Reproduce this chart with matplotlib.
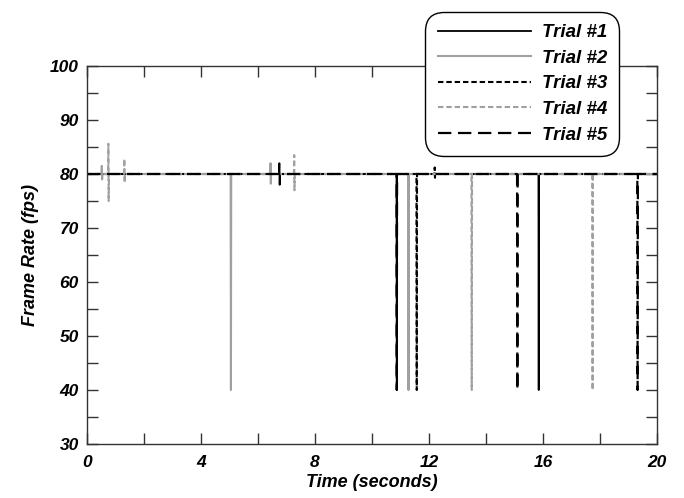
import matplotlib
matplotlib.use("Agg")
import matplotlib.pyplot as plt
from matplotlib.ticker import MultipleLocator

# ---- data (time in s, frame rate in fps) ----
trial1_t = [0, 6.74, 6.75, 6.76, 6.77, 10.86, 10.87, 10.88, 15.84, 15.85, 15.86, 20]
trial1_v = [80, 80, 82, 78, 80, 80, 40, 80, 80, 40, 80, 80]

trial2_t = [0, 0.51, 0.52, 0.53, 0.54, 5.04, 5.05, 5.06, 6.43, 6.44, 6.45, 6.46, 11.27, 11.28, 11.29, 20]
trial2_v = [80, 80, 81.5, 79, 80, 80, 40, 80, 80, 82, 78.2, 80, 80, 40, 80, 80]

trial3_t = [0, 11.56, 11.57, 11.58, 12.19, 12.2, 12.21, 12.22, 20]
trial3_v = [80, 80, 40, 80, 80, 81.2, 79.3, 80, 80]

trial4_t = [0, 0.74, 0.75, 0.76, 0.77, 1.30, 1.31, 1.32, 1.33, 7.26, 7.27, 7.28, 7.29,
            13.49, 13.5, 13.51, 17.73, 17.74, 17.75, 20]
trial4_v = [80, 80, 85.6, 75, 80, 80, 82.8, 78.4, 80, 80, 83.5, 77, 80,
            80, 40, 80, 80, 40, 80, 80]

trial5_t = [0, 10.86, 10.87, 10.88, 15.09, 15.1, 15.11, 19.31, 19.32, 19.33, 20]
trial5_v = [80, 80, 40, 80, 80, 40, 80, 80, 40, 80, 80]

labels = ["Trial #1", "Trial #2", "Trial #3", "Trial #4", "Trial #5"]

# ---- figure ----
plt.rcParams['font.family'] = ['Liberation Sans', 'DejaVu Sans']
fig = plt.figure(figsize=(6.84, 4.98), dpi=100)
ax = fig.add_axes([87/684, 1-444/498, (657-87)/684, (444-66)/498])

gray = '#a0a0a0'
l1, = ax.plot(trial1_t, trial1_v, color='black', lw=1.3, ls='-')
l2, = ax.plot(trial2_t, trial2_v, color=gray, lw=1.5, ls='-')
l3, = ax.plot(trial3_t, trial3_v, color='black', lw=1.5, ls=(0, (2.6, 1.4)))
l4, = ax.plot(trial4_t, trial4_v, color=gray, lw=1.5, ls=(0, (2.6, 1.4)))
l5, = ax.plot(trial5_t, trial5_v, color='black', lw=1.6, ls=(0, (6, 3)))

ax.set_xlim(0, 20)
ax.set_ylim(30, 100)
ax.xaxis.set_major_locator(MultipleLocator(4))
ax.xaxis.set_minor_locator(MultipleLocator(2))
ax.yaxis.set_major_locator(MultipleLocator(10))
ax.yaxis.set_minor_locator(MultipleLocator(5))
ax.tick_params(which='both', direction='in', top=True, right=True, width=1, color='#333333')
ax.tick_params(which='major', length=8)
ax.tick_params(which='minor', length=8)
ax.tick_params(axis='x', which='major', pad=8)
ax.tick_params(axis='y', which='major', pad=6)
for lab in ax.get_xticklabels() + ax.get_yticklabels():
    lab.set_fontsize(12.5)
    lab.set_fontweight('bold')
    lab.set_fontstyle('italic')
for sp in ax.spines.values():
    sp.set_linewidth(1.0)
    sp.set_color('#333333')

ax.set_xlabel("Time (seconds)", fontsize=13, fontweight='bold', fontstyle='italic', labelpad=3)
ax.set_ylabel("Frame Rate (fps)", fontsize=13, fontweight='bold', fontstyle='italic', labelpad=8)

leg = fig.legend([l1, l2, l3, l4, l5], labels, loc='upper right',
                 bbox_to_anchor=(619/684, 1-12/498), bbox_transform=fig.transFigure,
                 borderaxespad=0,
                 fancybox=True, framealpha=1, edgecolor='black',
                 handlelength=5.0, handletextpad=0.55, labelspacing=0.45,
                 borderpad=0.65, prop={'weight': 'bold', 'style': 'italic', 'size': 13.5})
leg.get_frame().set_linewidth(1.0)
leg.get_frame().set_boxstyle('round,pad=0,rounding_size=1.0')

fig.savefig("out.png", dpi=100)
